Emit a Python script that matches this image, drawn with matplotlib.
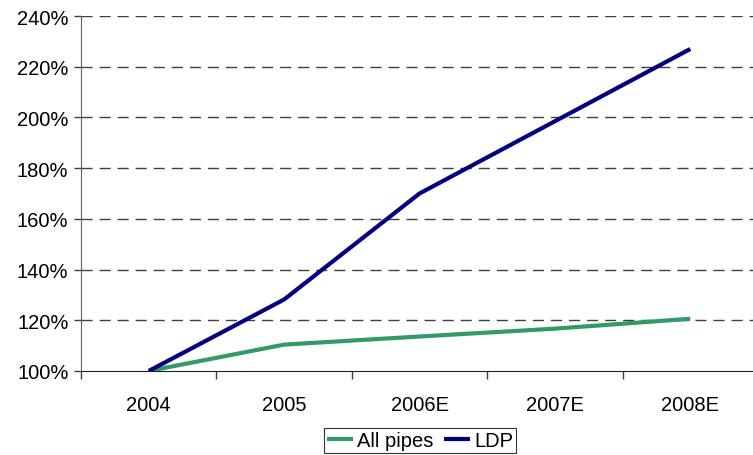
import matplotlib
matplotlib.use('Agg')
import matplotlib.pyplot as plt
import numpy as np
from matplotlib.ticker import FuncFormatter, FixedLocator, NullFormatter

years = ['2004', '2005', '2006E', '2007E', '2008E']
all_pipes = [100.0, 110.4, 113.6, 116.7, 120.6]
ldp = [100.0, 128.2, 170.0, 198.5, 227.0]

plt.rcParams['font.family'] = ['Liberation Sans', 'DejaVu Sans']
fs = 14.5

fig = plt.figure(figsize=(7.53, 4.56), dpi=100)
ax = fig.add_axes([81/753, 1 - 372/456, (758 - 81)/753, (372 - 17)/456])

x = np.arange(len(years))
ax.plot(x, all_pipes, color='#339966', lw=3, label='All pipes', solid_capstyle='butt')
ax.plot(x, ldp, color='#000080', lw=3, label='LDP', solid_capstyle='butt')

ax.set_xlim(-0.5, len(years) - 0.5)
ax.set_ylim(100, 240)
ax.set_yticks(np.arange(100, 241, 20))
ax.yaxis.set_major_formatter(FuncFormatter(lambda v, p: '%d%%' % v))
for y in np.arange(120, 241, 20):
    ax.axhline(y, color='#404040', lw=1, dashes=(8, 5), zorder=0)

# category labels centred, ticks on the boundaries
ax.set_xticks(x)
ax.set_xticklabels(years)
ax.tick_params(axis='x', which='major', length=0, pad=17, labelsize=fs)
ax.xaxis.set_minor_locator(FixedLocator(np.arange(-0.5, len(years), 1.0)))
ax.xaxis.set_minor_formatter(NullFormatter())
ax.tick_params(axis='x', which='minor', length=6, width=1, color='#404040')
ax.tick_params(axis='y', length=5, width=1, color='#404040', labelsize=fs, pad=4)

for s in ['top', 'right']:
    ax.spines[s].set_visible(False)
ax.spines['left'].set_color('#606060')
ax.spines['bottom'].set_color('#202020')

leg = ax.legend(loc='lower center', bbox_to_anchor=((420 - 81)/677, -0.230), ncol=2,
                frameon=True, fancybox=False, edgecolor='black', fontsize=fs,
                handlelength=1.3, handletextpad=0.2, columnspacing=0.5,
                borderpad=0.15, borderaxespad=0)
leg.get_frame().set_linewidth(0.8)

fig.savefig('out.png', dpi=100)
